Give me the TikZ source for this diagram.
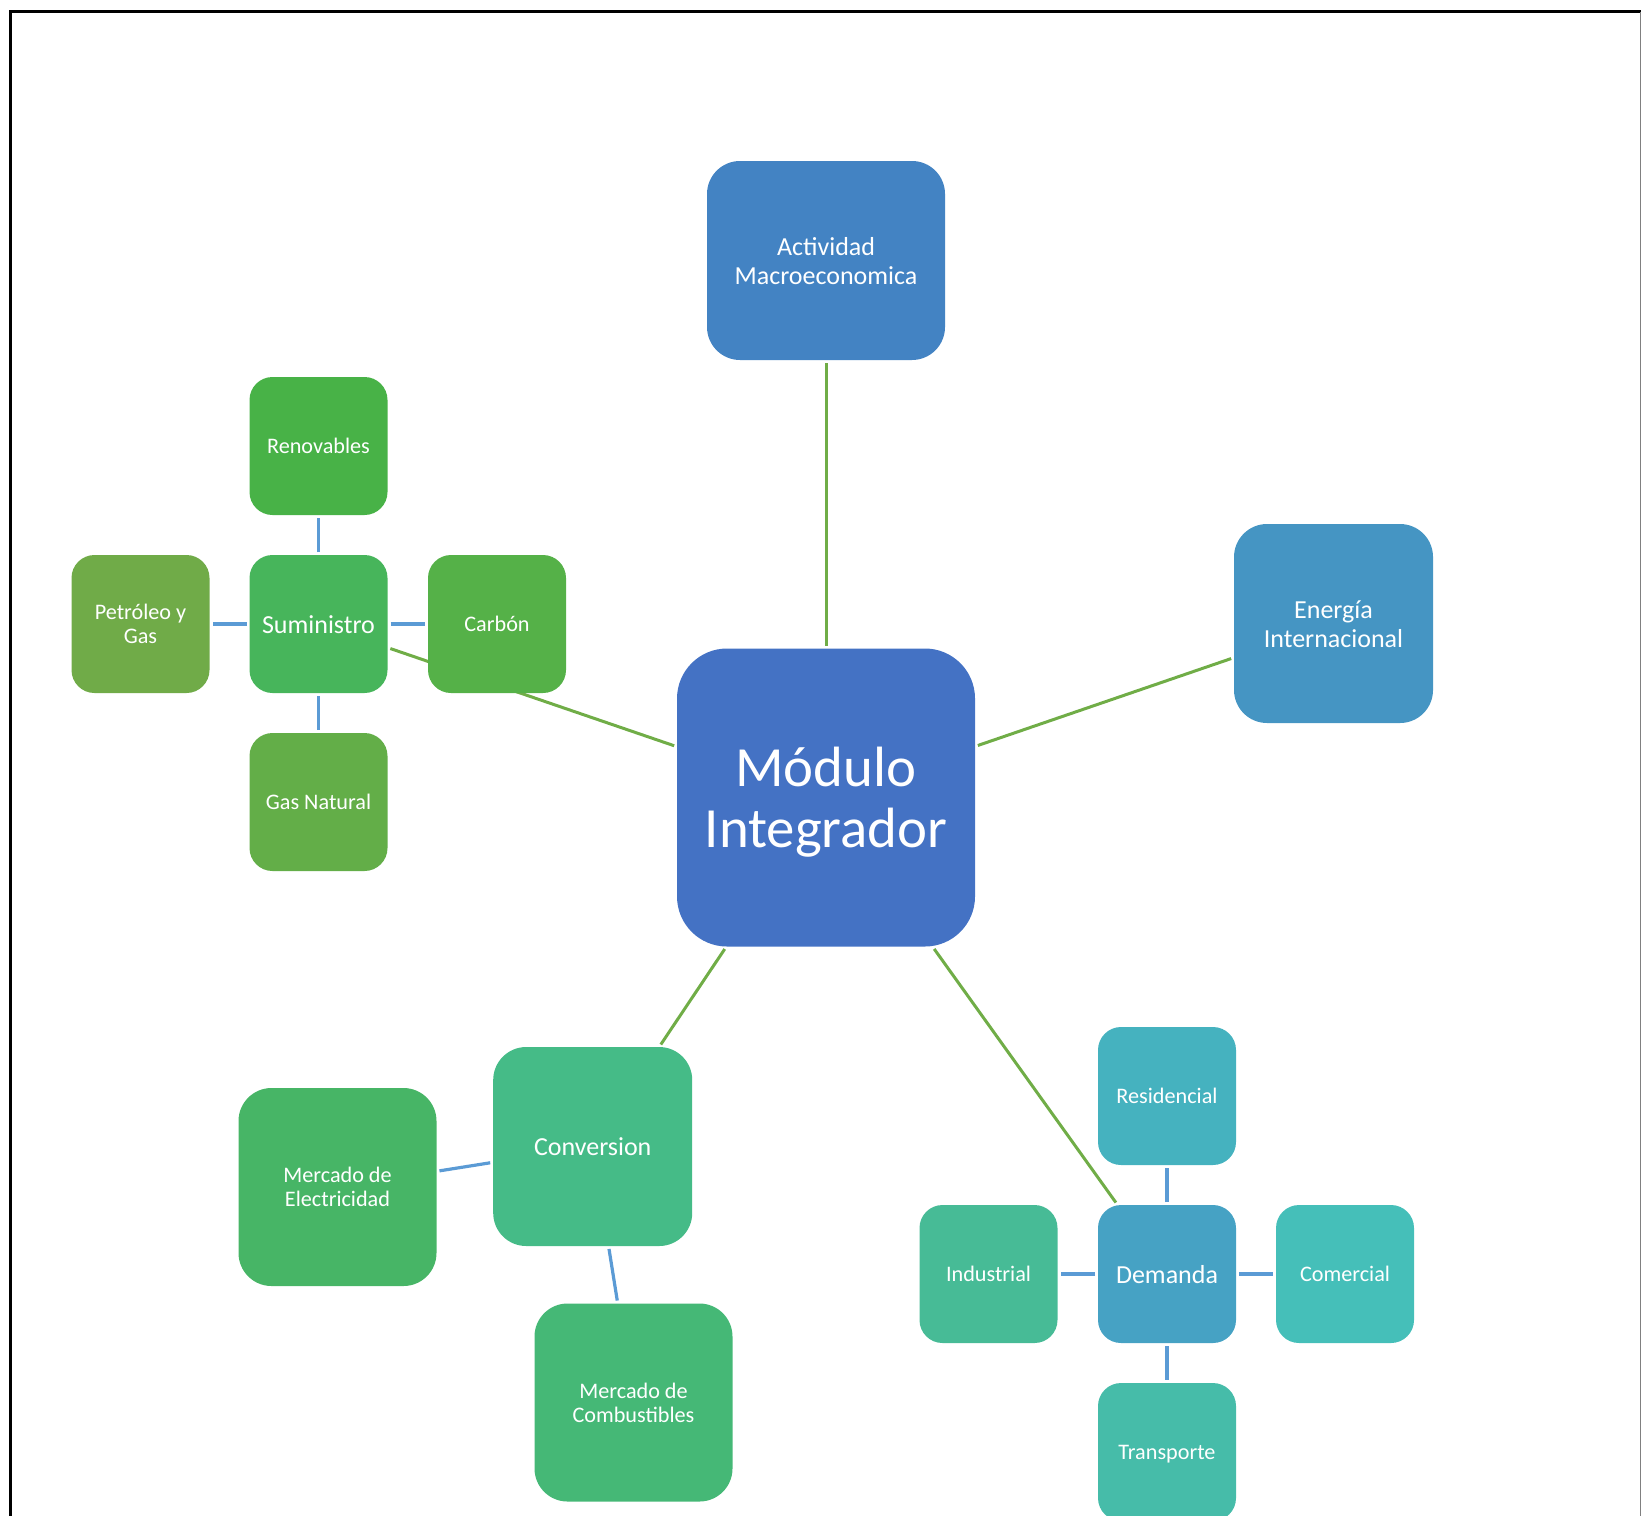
\documentclass[tikz,border=0pt]{standalone}
\usepackage{fontspec}
\setmainfont{Carlito}
\usetikzlibrary{backgrounds}
\newcommand{\mystrut}{\rule[-0.15em]{0pt}{1em}}
\definecolor{cmod}{HTML}{4472C4}
\definecolor{cact}{HTML}{4383C3}
\definecolor{cene}{HTML}{4595C3}
\definecolor{cdem}{HTML}{46A2C4}
\definecolor{cres}{HTML}{45B2BF}
\definecolor{ccmr}{HTML}{45BFB9}
\definecolor{ctra}{HTML}{46BCA9}
\definecolor{cind}{HTML}{47BB96}
\definecolor{ccon}{HTML}{45BB87}
\definecolor{ccom}{HTML}{45B876}
\definecolor{cele}{HTML}{47B566}
\definecolor{csum}{HTML}{47B55B}
\definecolor{cren}{HTML}{48B247}
\definecolor{ccar}{HTML}{55B148}
\definecolor{cgas}{HTML}{63AE48}
\definecolor{cpet}{HTML}{70AB48}
\definecolor{glink}{HTML}{70AD47}
\definecolor{blink}{HTML}{5B9BD5}
\begin{document}
\begin{tikzpicture}[x=0.5pt,y=-0.5pt,
  basebox/.style={inner sep=0pt, outer sep=0pt, text=white, align=center},
  bigbox/.style={basebox, rounded corners=25pt, minimum width=149pt, minimum height=149pt,
    font=\fontsize{28.4}{30.5}\selectfont},
  actbox/.style={basebox, rounded corners=16.5pt, minimum width=119pt, minimum height=99.5pt,
    font=\fontsize{13}{14.5}\selectfont},
  midbox/.style={basebox, rounded corners=16.5pt, minimum width=99.5pt, minimum height=99.5pt,
    font=\fontsize{13}{14.5}\selectfont},
  leafmid/.style={basebox, rounded corners=16.5pt, minimum width=99pt, minimum height=99pt,
    font=\fontsize{11.1}{12.2}\selectfont},
  hubsmall/.style={basebox, rounded corners=11.5pt, minimum width=69pt, minimum height=69pt,
    font=\fontsize{13}{14.3}\selectfont},
  leafsmall/.style={basebox, rounded corners=11.5pt, minimum width=69pt, minimum height=69pt,
    font=\fontsize{11.1}{12.2}\selectfont},
  gline/.style={draw=glink, line width=1.5pt, shorten <=1.5pt, shorten >=1.5pt},
  bline/.style={draw=blink, line width=1.6pt, shorten <=1.5pt, shorten >=1.5pt}]
\useasboundingbox (0,0) rectangle (1641,1515);

% frame
\draw[black, line width=1.5pt] (10,1520) -- (10,11.3) -- (1641,11.3);
\draw[gray, line width=0.6pt] (1640.3,12) -- (1640.3,1520);

% central
\node[bigbox, fill=cmod] (mod) at (826,797.5) {\mystrut M\'odulo\\\mystrut Integrador};
\node[actbox, fill=cact] (act) at (826,260.5) {\mystrut Actividad\\\mystrut Macroeconomica};
\node[midbox, fill=cene] (ene) at (1333.5,623.5) {\mystrut Energ\'ia\\\mystrut Internacional};

% suministro group
\node[hubsmall, fill=csum] (sum) at (318.5,624) {\mystrut Suministro};
\node[leafsmall, fill=cren] (ren) at (318.5,446) {\mystrut Renovables};
\node[leafsmall, fill=cpet] (pet) at (140.5,624) {\mystrut Petr\'oleo y\\\mystrut Gas};
\node[leafsmall, fill=ccar] (car) at (497,624) {\mystrut Carb\'on};
\node[leafsmall, fill=cgas] (gas) at (318.5,802) {\mystrut Gas Natural};

% conversion group
\node[midbox, fill=ccon] (con) at (592.7,1146.5) {\mystrut Conversion};
\node[leafmid, fill=cele] (ele) at (337.5,1187) {\mystrut Mercado de\\\mystrut Electricidad};
\node[leafmid, fill=ccom] (com) at (633.5,1402.5) {\mystrut Mercado de\\\mystrut Combustibles};

% demanda group
\node[hubsmall, fill=cdem] (dem) at (1167,1274) {\mystrut Demanda};
\node[leafsmall, fill=cres] (res) at (1167,1096) {\mystrut Residencial};
\node[leafsmall, fill=cind] (ind) at (988.5,1274) {\mystrut Industrial};
\node[leafsmall, fill=ccmr] (cmr) at (1345,1274) {\mystrut Comercial};
\node[leafsmall, fill=ctra] (tra) at (1167,1452) {\mystrut Transporte};

\begin{scope}[on background layer]
  \draw[gline] (mod) -- (act);
  \draw[gline] (mod) -- (ene);
  \draw[gline] (mod) -- (sum);
  \draw[gline] (mod) -- (con);
  \draw[gline] (mod) -- (dem);
  \draw[bline] (sum) -- (ren);
  \draw[bline] (sum) -- (pet);
  \draw[bline] (sum) -- (car);
  \draw[bline] (sum) -- (gas);
  \draw[bline] (con) -- (ele);
  \draw[bline] (con) -- (com);
  \draw[bline] (dem) -- (res);
  \draw[bline] (dem) -- (ind);
  \draw[bline] (dem) -- (cmr);
  \draw[bline] (dem) -- (tra);
\end{scope}
\end{tikzpicture}
\end{document}
